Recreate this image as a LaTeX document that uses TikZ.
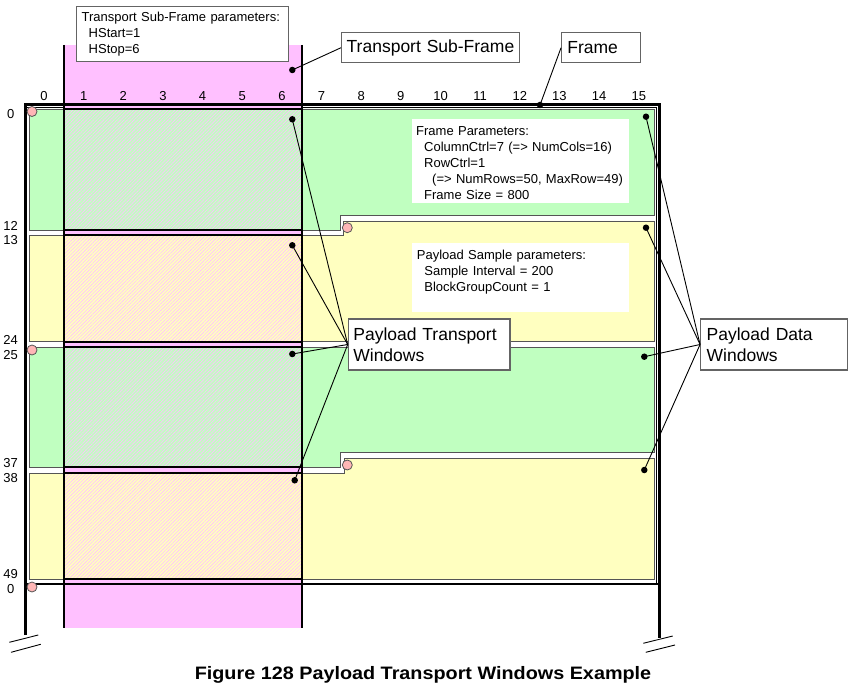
\documentclass[tikz,border=0pt]{standalone}
\usepackage{fontspec}
\usepackage{graphicx}
\setmainfont{Liberation Sans}
\usetikzlibrary{patterns.meta}
\definecolor{greenw}{RGB}{192,255,192}
\definecolor{yelloww}{RGB}{255,255,192}
\definecolor{subpink}{RGB}{255,192,255}
\definecolor{startpink}{RGB}{255,182,182}
\definecolor{winborder}{RGB}{85,85,85}
\definecolor{boxgray}{RGB}{100,100,100}
\newcommand\smallfnt{\fontsize{13}{15.8}\selectfont}
\newcommand\bigfnt{\fontsize{17.5}{20.7}\selectfont}
\begin{document}
\begin{tikzpicture}[x=1pt,y=-1pt,
  datawin/.style={draw=winborder,line width=0.9pt},
  twin/.style={draw=black,line width=2pt},
  hatch/.style={pattern={Lines[angle=45,distance=2.4pt,line width=0.6pt]},pattern color=subpink},
  frameline/.style={line width=2.6pt},
  thinframe/.style={line width=0.9pt},
  subline/.style={line width=1.8pt},
  numlabel/.style={font=\smallfnt,anchor=center,inner sep=0pt},
  dot/.style={circle,fill=black,inner sep=0pt,minimum size=6.5pt},
  startmark/.style={circle,draw=winborder,fill=startpink,line width=0.8pt,inner sep=0pt,minimum size=10pt},
  callout/.style={draw=boxgray,line width=1.3pt,fill=white,font=\bigfnt,align=left,inner ysep=0pt},
  leader/.style={line width=0.9pt},
  breakline/.style={line width=0.9pt},
  paramtext/.style={font=\smallfnt,align=left,anchor=base west,inner sep=0pt,text width=#1}
]
\useasboundingbox (0,0) rectangle (851,692);
\fill[white] (0,0) rectangle (851,692);

% payload data windows
\filldraw[datawin,fill=greenw] (29.3,109) -- (654,109) -- (654,215.5) -- (340,215.5) -- (340,230.7) -- (29.3,230.7) -- cycle;
\filldraw[datawin,fill=yelloww] (343.5,221) -- (654,221) -- (654,341.8) -- (29.3,341.8) -- (29.3,235.7) -- (343.5,235.7) -- cycle;
\filldraw[datawin,fill=greenw] (29.3,347.3) -- (654,347.3) -- (654,452.7) -- (340,452.7) -- (340,467.7) -- (29.3,467.7) -- cycle;
\filldraw[datawin,fill=yelloww] (344,458.3) -- (654,458.3) -- (654,579.5) -- (29.3,579.5) -- (29.3,473) -- (344,473) -- cycle;

% thin inner frame line
\draw[thinframe] (25.5,107.8) -- (656.3,107.8) -- (656.3,584);

% transport sub-frame
\fill[subpink] (64,45) rectangle (302,628);

% payload transport windows
\path[fill=greenw,postaction={hatch},postaction={twin}] (64,109.3) rectangle (302,230);
\path[fill=yelloww,postaction={hatch},postaction={twin}] (64,235.3) rectangle (302,342.3);
\path[fill=greenw,postaction={hatch},postaction={twin}] (64,347.3) rectangle (302,467.3);
\path[fill=yelloww,postaction={hatch},postaction={twin}] (64,473.3) rectangle (302,579);

% frame
\draw[frameline] (25.5,635) -- (25.5,104.5) -- (659.5,104.5) -- (659.5,638);
\draw[line width=2.2pt] (25.5,583.6) -- (659.5,583.6);
\draw[breakline] (9.3,642.3) -- (38.3,635);
\draw[breakline] (11,652.3) -- (40.7,644.3);
\draw[breakline] (643.3,643.3) -- (672.7,636);
\draw[breakline] (645.7,652.3) -- (675,645);

% sub-frame boundaries
\draw[subline] (64,45) -- (64,628);
\draw[subline] (302,45) -- (302,628);

% column numbers
\foreach \c in {0,...,15} \node[numlabel] (col\c) at ({44+39.65*\c},96.3) {\c};

% row numbers
\node[numlabel] (rowA) at (10.7,114) {0};
\node[numlabel] (rowB) at (10.7,225.5) {12};
\node[numlabel] (rowC) at (10.7,240) {13};
\node[numlabel] (rowD) at (10.7,339.5) {24};
\node[numlabel] (rowE) at (10.7,355.5) {25};
\node[numlabel] (rowF) at (10.7,462.7) {37};
\node[numlabel] (rowG) at (10.7,478.3) {38};
\node[numlabel] (rowH) at (10.7,574) {49};
\node[numlabel] (rowI) at (10.7,589.3) {0};

% window start marks
\node[startmark] (s1) at (32,111.5) {};
\node[startmark] (s2) at (347.3,227.7) {};
\node[startmark] (s3) at (32,350) {};
\node[startmark] (s4) at (347.3,465) {};
\node[startmark] (s5) at (32,587) {};

% parameter panels
\fill[white] (412,119.3) rectangle (629.3,203.3);
\node[paramtext=212pt] (fparams) at (416,136) {Frame Parameters:\\\hspace*{8pt}ColumnCtrl=7 (=> NumCols=16)\\\hspace*{8pt}RowCtrl=1\\\hspace*{16pt}(=> NumRows=50, MaxRow=49)\\\hspace*{8pt}Frame Size = 800};
\fill[white] (411.7,243.3) rectangle (629,311.7);
\node[paramtext=212pt] (pparams) at (416.7,260) {Payload Sample parameters:\\\hspace*{7.5pt}Sample Interval = 200\\\hspace*{7.5pt}BlockGroupCount = 1};

\node[draw=boxgray,line width=1.3pt,fill=white,font=\smallfnt,align=left,inner ysep=0pt,inner xsep=5pt,minimum width=212pt,text width=202pt,minimum height=55pt] (tsfparams) at (182.7,34) {Transport Sub-Frame parameters:\\\hspace*{7pt}HStart=1\\\hspace*{7pt}HStop=6};

% callouts
\node[callout,inner xsep=5pt,minimum width=177.6pt,text width=167.6pt,minimum height=30pt] (tsf) at (430.5,47.7) {Transport Sub-Frame};
\node[callout,inner xsep=5.6pt,minimum width=79pt,text width=67.8pt,minimum height=30pt] (frm) at (601.2,47.7) {Frame};
\node[callout,inner xsep=5pt,minimum width=161.7pt,text width=151.7pt,minimum height=51pt] (ptw) at (429.2,344.5) {Payload Transport\\Windows};
\node[callout,inner xsep=6pt,minimum width=146.6pt,text width=134.6pt,minimum height=51pt] (pdw) at (774,344.5) {Payload Data\\Windows};

% callout dots
\node[dot] (dtsf) at (292.3,70) {};
\node[dot] (dframe) at (540,105) {};
\node[dot] (dtw1) at (292.3,119.3) {};
\node[dot] (dtw2) at (292.3,245.3) {};
\node[dot] (dtw3) at (292.3,354) {};
\node[dot] (dtw4) at (294.7,480.3) {};
\node[dot] (ddw1) at (646,116.7) {};
\node[dot] (ddw2) at (646,227.7) {};
\node[dot] (ddw3) at (644.3,356.7) {};
\node[dot] (ddw4) at (644.3,470) {};

% leaders
\draw[leader] (tsf.west) -- (dtsf.center);
\draw[leader] (frm.west) -- (dframe.center);
\foreach \d in {dtw1,dtw2,dtw3,dtw4} \draw[leader] (ptw.west) -- (\d.center);
\foreach \d in {ddw1,ddw2,ddw3,ddw4} \draw[leader] (pdw.west) -- (\d.center);

% caption
\node[font=\fontsize{18}{20}\selectfont\bfseries,inner sep=0pt] (caption) at (423,675) {\scalebox{1.1}[1]{Figure 128 Payload Transport Windows Example}};
\end{tikzpicture}
\end{document}
